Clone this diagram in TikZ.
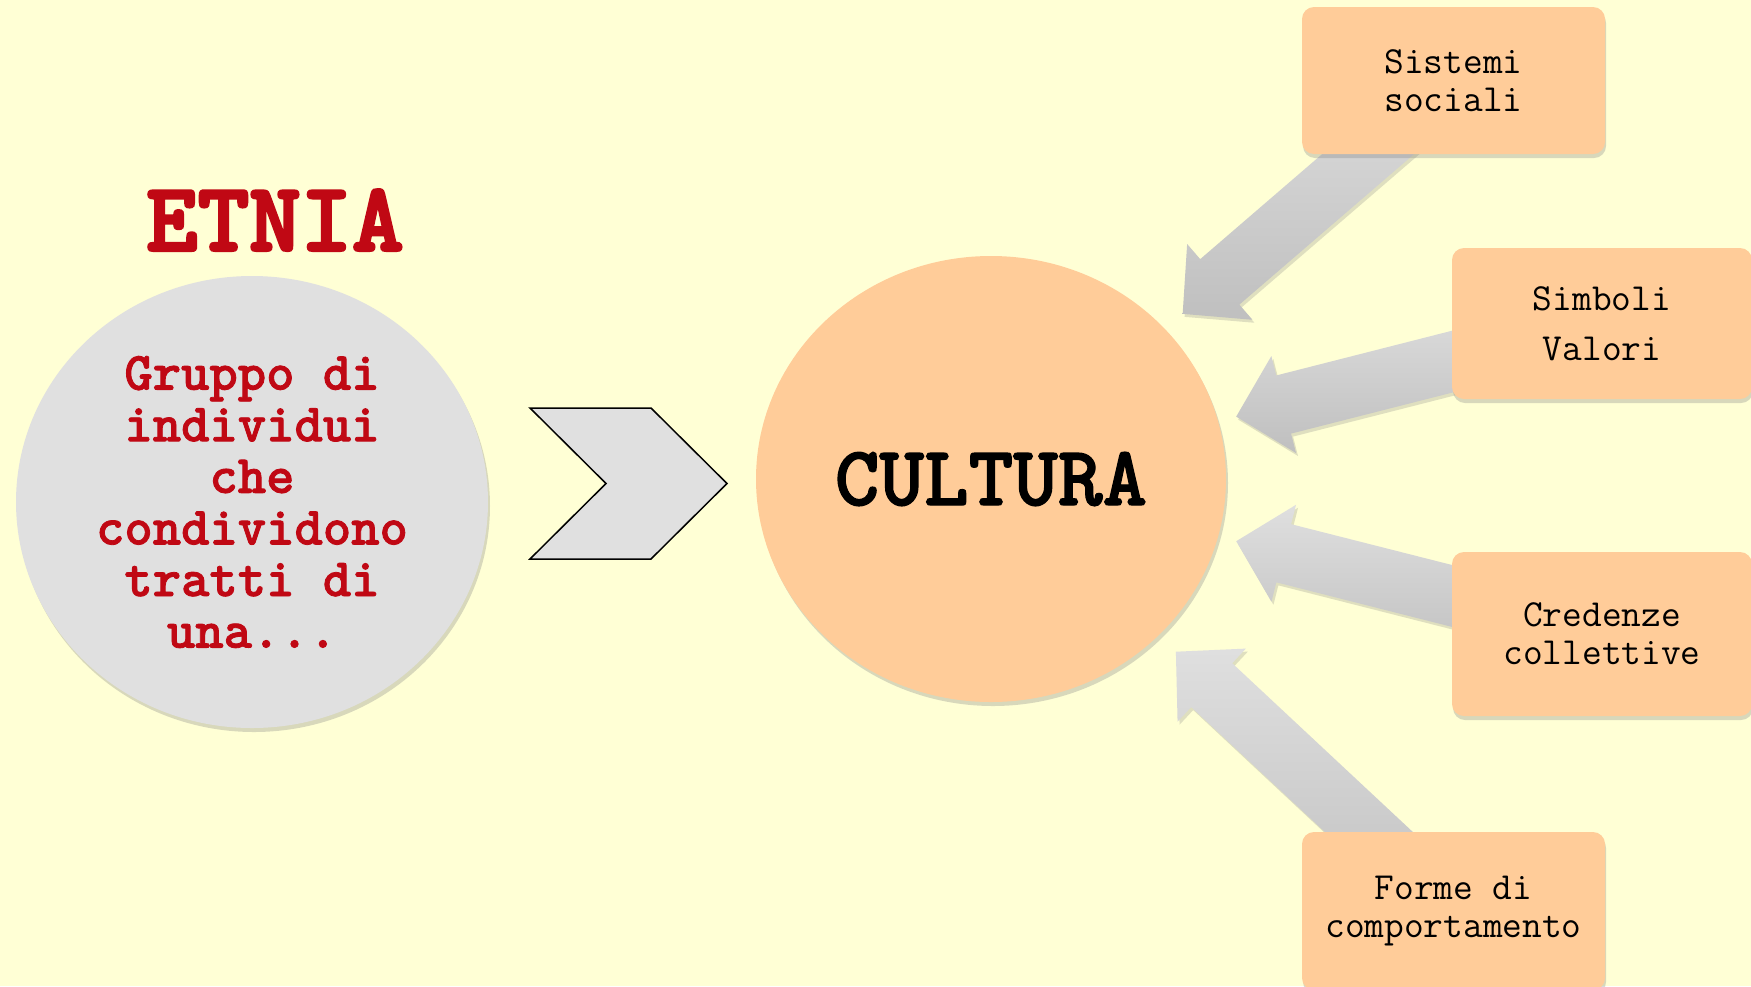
\documentclass[tikz,border=0pt]{standalone}
\usepackage{fontspec}
\newcommand{\cour}{\ttfamily}
\newfontfamily\courb{lmmonolt10-bold.otf}[FakeBold=1.5]
\newfontfamily\courbb{lmmonolt10-bold.otf}[FakeBold=3]
\usepackage{tikz}
\usetikzlibrary{shapes,positioning,shadows,calc}
\usepackage{xcolor}
\definecolor{etbg}{RGB}{255,255,213}
\definecolor{etpeach}{RGB}{255,204,153}
\definecolor{etgray}{RGB}{224,224,224}
\definecolor{etred}{RGB}{192,8,20}
\tikzstyle{fattore} = [rectangle, rounded corners=12pt, fill=etpeach, text centered, align=center, font=\cour\fontsize{38.3}{38}\selectfont, drop shadow={opacity=0.3, shadow xshift=1pt, shadow yshift=-4pt}]
\tikzstyle{cerchio} = [ellipse, inner sep=0pt, align=center, drop shadow={opacity=0.3, shadow xshift=2pt, shadow yshift=-4pt}]
\tikzstyle{frecciagrigia} = [top color=gray!25, bottom color=gray!50, drop shadow={opacity=0.25, shadow xshift=2pt, shadow yshift=-3pt}]
\pgfdeclarelayer{sfondo}
\pgfdeclarelayer{frecce}
\pgfsetlayers{sfondo,frecce,main}
% block arrow from the centre of box #1 towards circle #2
\newcommand{\frecciona}[2]{%
  \coordinate (#1-p) at ($(#2.center)!253pt!(#1.center)$);
  \coordinate (#1-b) at ($(#1-p)!49pt!(#1.center)$);
  \path[frecciagrigia]
    ($(#1.center)!30pt!90:(#1-p)$) -- ($(#1-b)!30pt!90:(#1-p)$) --
    ($(#1-b)!50pt!90:(#1-p)$) -- (#1-p) --
    ($(#1-b)!50pt!-90:(#1-p)$) -- ($(#1-b)!30pt!-90:(#1-p)$) --
    ($(#1.center)!30pt!-90:(#1-p)$) -- cycle;
}

\begin{document}
\begin{tikzpicture}[x=1pt, y=-1pt]
\useasboundingbox (0,0) rectangle (1751,986);
\begin{pgfonlayer}{sfondo}
\fill[etbg] (0,0) rectangle (1751,986);
\end{pgfonlayer}

% Etnia side
\node[cerchio, fill=etgray, minimum width=472pt, minimum height=452pt, text=etred, font=\courb\fontsize{54}{51.6}\selectfont] (etnia) at (252,502) {Gruppo di\\individui\\che\\condividono\\tratti di\\una...};
\node[inner sep=0pt, text=etred, font=\courbb\fontsize{98}{100}\selectfont, above=25pt of etnia, xshift=23pt] (titolo) {ETNIA};

\draw[line width=1.5pt, fill=etgray] (530,408) -- (651,408) -- (727,483.5) -- (651,559) -- (530,559) -- (606,483.5) -- cycle;

% Cultura side
\node[cerchio, fill=etpeach, minimum width=470pt, minimum height=446pt, font=\courb\fontsize{85}{90}\selectfont] (cult) at (991,479) {CULTURA};

\node[fattore, minimum width=303pt, minimum height=147pt] (sist) at (1453.5,80.5) {Sistemi\\sociali};
\node[fattore, minimum width=300pt, minimum height=151pt] (simb) at (1602,323.5) {Simboli\\[12pt]Valori};
\node[fattore, minimum width=300pt, minimum height=164pt] (cred) at (1602,634) {Credenze\\collettive};
\node[fattore, minimum width=303pt, minimum height=158pt] (forme) at (1453.5,911) {Forme di\\comportamento};

\begin{pgfonlayer}{frecce}
\frecciona{sist}{cult}
\frecciona{simb}{cult}
\frecciona{cred}{cult}
\frecciona{forme}{cult}
\end{pgfonlayer}
\end{tikzpicture}
\end{document}
